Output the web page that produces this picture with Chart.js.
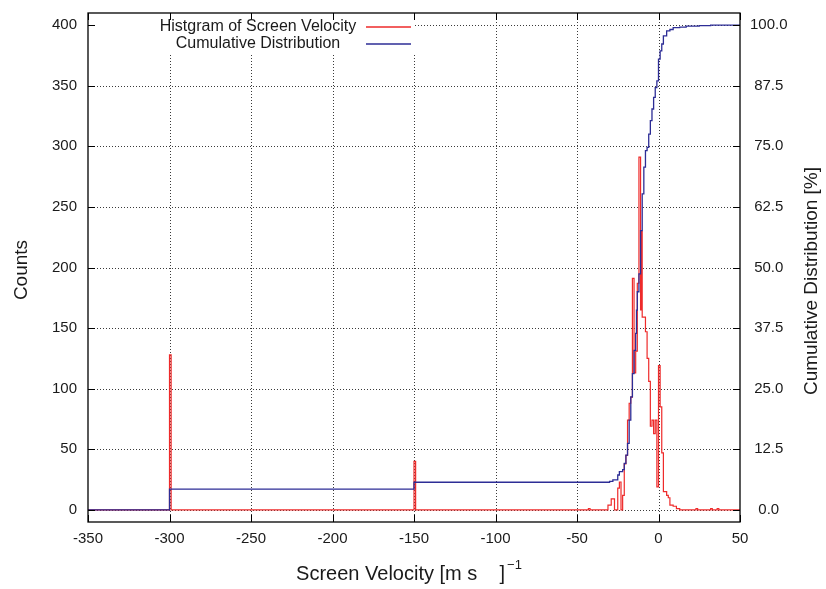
<!DOCTYPE html>
<html>
<head>
<meta charset="utf-8">
<script src="https://cdn.jsdelivr.net/npm/chart.js@4.4.1/dist/chart.umd.min.js"></script>
<style>
    html, body { margin: 0; padding: 0; background: #fff; }
    #wrap { width: 826px; height: 589px; }
</style>
</head>
<body>
<div id="wrap"><canvas id="velChart" width="826" height="589"></canvas></div>
<script>
// histogram: left bin edge -> count
const histEdges = [-350, -300, -299, -150, -149, -43, -42, -31, -30, -29, -28, -27, -25, -24, -23, -22, -21,
    -20, -19, -18, -17, -16, -15, -14, -13, -12, -11, -10.5, -10, -9, -8, -7, -6, -5, -4, -3, -2, -1,
    0, 1, 2, 3, 4, 5, 6, 7, 8, 9, 10, 11, 12, 13, 23, 24, 32, 33, 36, 37, 50];
const histCounts = [0, 128, 0, 40, 0, 1, 0, 4, 4, 9, 9, 0, 18, 23, 0, 12, 38,
    45, 74, 88, 93, 191, 113, 131, 187, 291, 165, 230, 159, 159, 147, 125, 106, 69, 74, 63, 74, 19,
    119, 85, 47, 15, 15, 12, 10, 4, 4, 3, 3, 1, 1, 0, 1, 0, 1, 0, 1, 0, 0];

// cumulative distribution [%]
const cumEdges = [-350, -300, -150, -30, -28, -25, -24, -22, -21, -20, -19, -18, -17, -16, -15, -14,
    -13.5, -13, -12, -11, -10, -9, -8, -7, -6, -5, -4, -3, -2, -1, 0, 1, 2, 3, 5, 7, 9, 13, 17, 25, 32, 50];
const cumPercent = [0, 4.3, 5.7, 5.9, 6.2, 7.2, 7.9, 8.3, 9.6, 11.3, 13.7, 18.5, 23.3, 28.1, 32.9, 36.4,
    41.2, 45.0, 48.7, 57.6, 65.2, 70.7, 74.1, 74.8, 77.5, 80.3, 82.7, 85.1, 87.1, 88.5, 93.0, 94.7,
    96.1, 97.8, 98.8, 99.1, 99.5, 99.6, 99.8, 99.9, 100, 100];

const xTicks = [-350, -300, -250, -200, -150, -100, -50, 0, 50];
const countTicks = [0, 50, 100, 150, 200, 250, 300, 350, 400];
const cumTicks = [0, 12.5, 25, 37.5, 50, 62.5, 75, 87.5, 100];

const FONT = '"Liberation Sans", Arial, Helvetica, sans-serif';
const TXT = "#1a1a1a";
const RED = "#ee2a2a";
const BLUE = "#2d2d96";

const toPoints = (xs, ys) => xs.map((x, i) => ({ x, y: ys[i] }));
const setTicks = arr => scale => { scale.ticks = arr.map(v => ({ value: v })); };
const fixSize = (prop, size) => scale => {
    scale[prop] = size;
    scale.paddingTop = 0;
    scale.paddingBottom = 0;
    scale.paddingLeft = 0;
    scale.paddingRight = 0;
};

const framePlugin = {
    id: "gnuplotFrame",
    beforeDatasetsDraw(chart) {
        const { ctx, chartArea: a, scales } = chart;
        ctx.save();
        ctx.strokeStyle = "#3a3a3a";
        ctx.lineWidth = 1;
        ctx.setLineDash([1, 2]);
        xTicks.forEach(v => {
            const px = Math.round(scales.x.getPixelForValue(v)) + 0.5;
            if (px <= a.left + 1 || px >= a.right - 1) return;
            ctx.beginPath(); ctx.moveTo(px, a.top); ctx.lineTo(px, a.bottom); ctx.stroke();
        });
        countTicks.forEach(v => {
            const py = Math.round(scales.y.getPixelForValue(v)) + 0.5;
            ctx.beginPath(); ctx.moveTo(a.left, py); ctx.lineTo(a.right, py); ctx.stroke();
        });
        // opaque key box
        ctx.fillStyle = "#fff";
        ctx.fillRect(a.left, a.top, 327, 40);
        ctx.restore();
    },
    afterDatasetsDraw(chart) {
        const { ctx, chartArea: a, scales } = chart;
        const tl = 7;
        ctx.save();
        ctx.strokeStyle = "#000";
        ctx.lineWidth = 1.3;
        ctx.strokeRect(a.left, a.top, a.right - a.left, a.bottom - a.top);
        ctx.lineWidth = 1;
        ctx.beginPath();
        xTicks.forEach(v => {
            const px = Math.round(scales.x.getPixelForValue(v)) + 0.5;
            ctx.moveTo(px, a.bottom); ctx.lineTo(px, a.bottom - tl);
            ctx.moveTo(px, a.top); ctx.lineTo(px, a.top + tl);
        });
        countTicks.forEach(v => {
            const py = Math.round(scales.y.getPixelForValue(v)) + 0.5;
            ctx.moveTo(a.left, py); ctx.lineTo(a.left + tl, py);
        });
        cumTicks.forEach(v => {
            const py = Math.round(scales.y2.getPixelForValue(v)) + 0.5;
            ctx.moveTo(a.right, py); ctx.lineTo(a.right - tl, py);
        });
        ctx.stroke();

        // legend, gnuplot style: text then line sample
        const rows = [
            { label: chart.data.datasets[0].label, color: RED, y: a.top + 14 },
            { label: chart.data.datasets[1].label, color: BLUE, y: a.top + 31 }
        ];
        rows.forEach(r => {
            ctx.font = `16px ${FONT}`;
            ctx.fillStyle = TXT;
            ctx.textAlign = "center";
            ctx.textBaseline = "middle";
            ctx.fillText(r.label, a.left + 170, r.y);
            ctx.beginPath();
            ctx.strokeStyle = r.color;
            ctx.lineWidth = 1.5;
            ctx.moveTo(a.left + 278, Math.round(r.y));
            ctx.lineTo(a.left + 323, Math.round(r.y));
            ctx.stroke();
        });

        // axis titles
        ctx.fillStyle = TXT;
        ctx.textAlign = "left";
        ctx.textBaseline = "alphabetic";
        const main = "Screen Velocity [m s    ]";
        ctx.font = `13px ${FONT}`;
        const supW = ctx.measureText("\u22121").width;
        ctx.font = `20px ${FONT}`;
        const mainW = ctx.measureText(main).width;
        const x0 = 409 - (mainW + supW + 2) / 2;
        ctx.fillText(main, x0, 580);
        ctx.font = `13px ${FONT}`;
        ctx.fillText("\u22121", x0 + mainW + 2, 569);

        ctx.font = `19px ${FONT}`;
        ctx.textAlign = "center";
        ctx.textBaseline = "middle";
        ctx.save();
        ctx.translate(22, 270);
        ctx.rotate(-Math.PI / 2);
        ctx.fillText("Counts", 0, 0);
        ctx.restore();
        ctx.save();
        ctx.translate(812, 281);
        ctx.rotate(-Math.PI / 2);
        ctx.fillText("Cumulative Distribution [%]", 0, 0);
        ctx.restore();
        ctx.restore();
    }
};

const tickFont = { family: FONT, size: 15 };

new Chart(document.getElementById("velChart"), {
    type: "line",
    data: {
        datasets: [
            {
                label: "Histgram of Screen Velocity",
                data: toPoints(histEdges, histCounts),
                yAxisID: "y",
                borderColor: RED,
                borderWidth: 1.2,
                stepped: true,
                pointRadius: 0,
                fill: false,
                order: 2
            },
            {
                label: "Cumulative Distribution",
                data: toPoints(cumEdges, cumPercent),
                yAxisID: "y2",
                borderColor: BLUE,
                borderWidth: 1.3,
                stepped: true,
                pointRadius: 0,
                fill: false,
                order: 1
            }
        ]
    },
    options: {
        responsive: false,
        animation: false,
        layout: { padding: { top: 13, left: 0, right: 0, bottom: 0 } },
        plugins: { legend: { display: false }, tooltip: { enabled: false } },
        scales: {
            x: {
                type: "linear",
                min: -350,
                max: 50,
                afterBuildTicks: setTicks(xTicks),
                afterFit: fixSize("height", 67),
                grid: { display: false, drawTicks: false },
                border: { display: false },
                ticks: { font: tickFont, color: TXT, padding: 8, maxRotation: 0, autoSkip: false }
            },
            y: {
                position: "left",
                min: -10,
                max: 410,
                afterBuildTicks: setTicks(countTicks),
                afterFit: fixSize("width", 88),
                grid: { display: false, drawTicks: false },
                border: { display: false },
                ticks: { font: tickFont, color: TXT, padding: 11 }
            },
            y2: {
                position: "right",
                min: -2.5,
                max: 102.5,
                afterBuildTicks: setTicks(cumTicks),
                afterFit: fixSize("width", 86),
                grid: { display: false, drawTicks: false },
                border: { display: false },
                ticks: {
                    font: tickFont, color: TXT, padding: 10, crossAlign: "center",
                    callback: v => v.toFixed(1)
                }
            }
        }
    },
    plugins: [framePlugin]
});
</script>
</body>
</html>
